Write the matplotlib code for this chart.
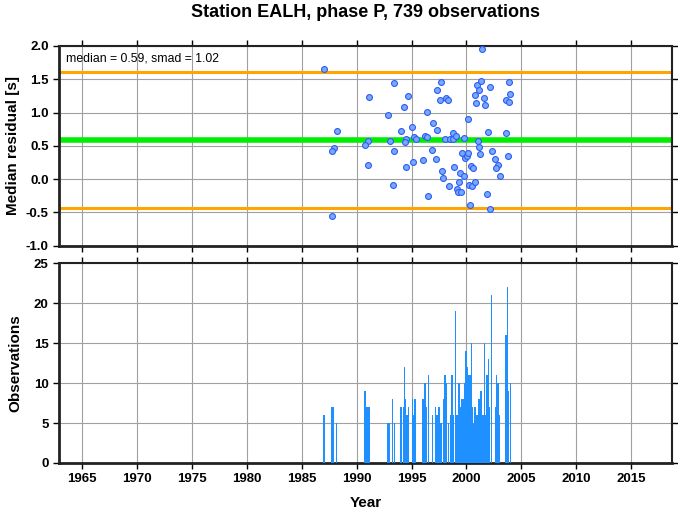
import numpy as np
import matplotlib
matplotlib.use("Agg")
import matplotlib.pyplot as plt

plt.rcParams['font.family'] = ['Liberation Sans', 'DejaVu Sans']

# median residual per time bin (year, residual [s])
res_year = [1987.06, 2001.43, 1993.36, 1991.15, 1997.64, 1997.27, 1997.55, 1998.15, 1998.33, 1994.70,
            1994.30, 1992.85, 1996.40, 1996.94, 1997.36, 1988.18, 1994.03, 1995.06, 1994.45, 1994.39,
            1995.24, 1995.36, 1996.20, 1996.36, 1993.00, 1991.00, 1990.80, 1987.90, 1987.80, 1993.40,
            1996.85, 1991.06, 1994.50, 1995.15, 1996.06, 1997.18, 1993.27, 1996.50, 1987.73,
            1998.03, 1998.48, 1998.76, 1998.79, 1999.00, 1999.80, 2000.10, 1997.80, 1997.90, 1998.45,
            1998.88, 1999.39, 1999.75, 1999.30, 1999.12, 1999.24, 1999.50, 1999.57, 1999.90, 2000.06,
            2000.18, 2000.42, 2000.60, 2000.20, 2000.50, 2000.73, 2000.33,
            2001.00, 2001.36, 2001.18, 2000.80, 2000.90, 2001.55, 2001.64, 2002.12, 2001.03, 2001.10,
            2001.27, 2001.97, 2002.30, 2002.64, 2002.90, 2002.70, 2003.06, 2001.88, 2002.18, 2003.90,
            2004.00, 2003.60, 2003.85, 2003.57, 2003.76]
res_val = [1.65, 1.955, 1.45, 1.24, 1.455, 1.34, 1.195, 1.22, 1.195, 1.255,
           1.08, 0.97, 1.01, 0.845, 0.745, 0.72, 0.725, 0.785, 0.61, 0.56,
           0.635, 0.61, 0.655, 0.635, 0.58, 0.58, 0.515, 0.475, 0.425, 0.42,
           0.435, 0.22, 0.185, 0.26, 0.295, 0.30, -0.08, -0.245, -0.56,
           0.61, 0.60, 0.60, 0.695, 0.655, 0.62, 0.905, 0.125, 0.015, -0.095,
           0.185, 0.10, 0.045, -0.035, -0.145, -0.19, -0.19, 0.40, 0.32, 0.345,
           0.40, 0.20, 0.165, -0.08, -0.095, -0.04, -0.395,
           1.42, 1.475, 1.34, 1.26, 1.145, 1.225, 1.12, 1.39, 0.58, 0.49,
           0.38, 0.71, 0.42, 0.30, 0.215, 0.17, 0.045, -0.225, -0.45, 1.465,
           1.275, 1.195, 1.16, 0.70, 0.355]

median = 0.59
smad = 1.02

# observations per bin
obs_year = [1987.03, 1987.70, 1987.85, 1988.14, 1990.75, 1990.95, 1991.14, 1992.86, 1993.00, 1993.25,
            1993.43, 1994.03, 1994.27, 1994.36, 1994.47, 1994.57, 1994.70, 1995.06, 1995.14, 1995.32,
            1996.05, 1996.23, 1996.36, 1996.55, 1996.88, 1997.18, 1997.30, 1997.43, 1997.55, 1997.66,
            1997.91, 1998.06, 1998.15, 1998.36, 1998.52, 1998.68, 1998.82, 1999.00, 1999.12, 1999.25,
            1999.36, 1999.48, 1999.61, 1999.73, 1999.85, 1999.97, 2000.09, 2000.21, 2000.34, 2000.43,
            2000.55, 2000.66, 2000.79, 2000.91, 2001.03, 2001.15, 2001.27, 2001.39, 2001.52, 2001.64,
            2001.75, 2001.88, 2002.00, 2002.12, 2002.27, 2002.64, 2002.75, 2002.88, 2003.03, 2003.61,
            2003.70, 2003.75, 2003.85, 2004.00]
obs_cnt = [6, 7, 7, 5, 9, 7, 7, 5, 5, 8,
           5, 7, 7, 12, 8, 6, 7, 8, 6, 8,
           8, 10, 7, 11, 6, 7, 6, 7, 7, 5,
           8, 11, 10, 5, 6, 11, 6, 19, 6, 10,
           10, 7, 8, 8, 10, 14, 12, 11, 11, 15,
           7, 5, 7, 6, 6, 8, 9, 9, 6, 15,
           6, 11, 13, 7, 21, 7, 11, 10, 6, 16,
           10, 22, 9, 10]

xticks = np.arange(1965, 2016, 5)

fig = plt.figure(figsize=(6.78, 5.11), dpi=100)
ax1 = fig.add_axes([0.087, 0.519, 0.904, 0.391])
ax2 = fig.add_axes([0.087, 0.094, 0.904, 0.391])

for ax in (ax1, ax2):
    ax.set_xlim(1962.9, 2018.7)
    ax.set_xticks(xticks)
    ax.grid(True, color='#a0a0a0', lw=0.8)
    ax.set_axisbelow(True)
    ax.tick_params(direction='out', length=4, width=1, top=True, right=True,
                   labelsize=9.5)
    for s in ax.spines.values():
        s.set_linewidth(1.5)
        s.set_color('#222222')
    ax.spines['left'].set_linewidth(2)
    ax.spines['bottom'].set_linewidth(2)

# top panel
ax1.axhline(median + smad, color='#FFA500', lw=2.2, zorder=2)
ax1.axhline(median - smad, color='#FFA500', lw=2.2, zorder=2)
ax1.axhline(median, color='#00EE00', lw=4, zorder=2)
ax1.scatter(res_year, res_val, s=18, facecolor='#76AAFF', edgecolor='#2F5CF0', lw=0.8, zorder=3)
ax1.set_ylim(-1.0, 2.0)
ax1.set_yticks(np.arange(-1.0, 2.01, 0.5))
ax1.set_yticklabels(['%.1f' % v for v in np.arange(-1.0, 2.01, 0.5)], fontweight='bold')
ax1.tick_params(labelbottom=False)
ax1.set_ylabel('Median residual [s]', fontsize=11, fontweight='bold')
ax1.text(0.012, 0.965, 'median = %.2f, smad = %.2f' % (median, smad), transform=ax1.transAxes,
         fontsize=8.8, va='top', ha='left')
ax1.set_title('Station EALH, phase P, 739 observations', fontsize=13, fontweight='bold', pad=21)

# bottom panel
ax2.bar(obs_year, obs_cnt, width=0.13, color='#1E90FF', lw=0, zorder=3)
ax2.set_ylim(0, 25)
ax2.set_yticks(np.arange(0, 26, 5))
ax2.set_yticklabels([str(v) for v in range(0, 26, 5)], fontweight='bold')
ax2.set_xticklabels([str(v) for v in xticks], fontweight='bold')
ax2.set_ylabel('Observations', fontsize=11, fontweight='bold', labelpad=8)
ax2.set_xlabel('Year', fontsize=11, fontweight='bold', labelpad=8)

fig.savefig('out.png', dpi=100)
